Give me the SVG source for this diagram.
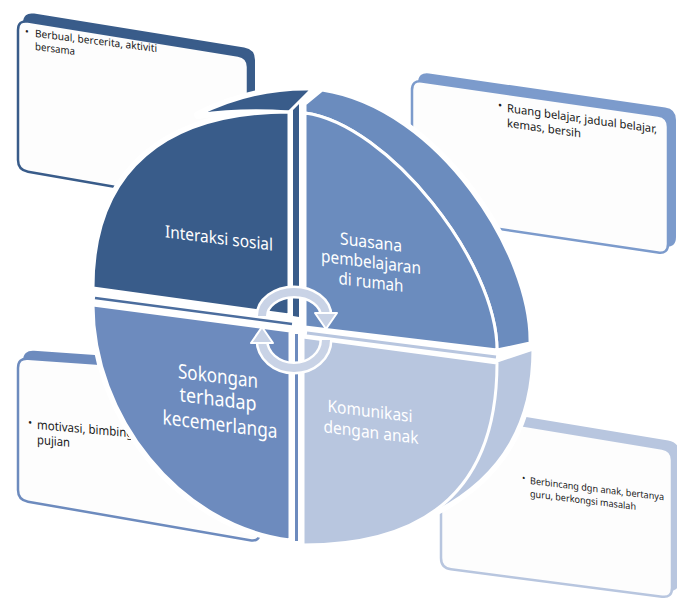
<svg xmlns="http://www.w3.org/2000/svg" xmlns:xlink="http://www.w3.org/1999/xlink" width="677" height="599" viewBox="0 0 677 599">
<style>
.card{fill:#FDFDFD;stroke-width:2.5}
.ctext{font-family:"Noto Sans","Open Sans",sans-serif;fill:#1a1a1a}
.qtext{font-family:"Noto Sans","Open Sans",sans-serif;fill:#FFFFFF;text-anchor:middle}
.face{stroke:#FFFFFF;stroke-width:3;stroke-linejoin:round}
.halo{fill:#FFFFFF;stroke:#FFFFFF;stroke-width:8;stroke-linejoin:round}
</style>
<defs>
<path id="cTL" d="M18,30 Q18,20 28,21.6 L238,55.4 Q248,57 248,67 L248,200 Q248,210 238,208.3 L28,171.7 Q18,170 18,160 Z"/>
<path id="cTR" d="M412,90 Q412,80 422,81.4 L658,115.6 Q668,117 668,127 L668,244 Q668,254 658,252.5 L422,217.5 Q412,216 412,206 Z"/>
<path id="cBL" d="M18,368 Q18,358 28,358.7 L250,374.3 Q260,375 260,385 L260,532 Q260,542 250,540.3 L28,501.7 Q18,500 18,490 Z"/>
<path id="cBR" d="M441,422 Q441,412 451,413.6 L662,448.4 Q672,450 672,460 L672,588 Q672,598 662,596.7 L451,569.3 Q441,568 441,558 Z"/>
<path id="qTLf" d="M289,315 L93,288 C93,168 168,112 289,112 Z"/>
<path id="qTLr" d="M198,115 C225,111 260,110 289,112 L312,89 C270,88 230,99 198,115 Z"/>
<path id="qTRf" d="M305,113 C388,124 497,262 497,350 L305,327 Z"/>
<path id="qTRb" d="M305,113 C388,124 497,262 497,350 L530,343 C532,255 440,108 322,90 L305,104 Z"/>
<path id="qBLf" d="M290,331 L93,305 C93,415 178,526 290,540 Z"/>
<path id="qBRf" d="M303,337 L497,363 C497,488 428,545 303,545 Z"/>
<path id="qBRb" d="M497,361 L533,349 C533,420 505,475 437,511 L400,480 Z"/>
</defs>
<rect x="0" y="0" width="677" height="599" fill="#FFFFFF"/>

<g id="card-interaksi">
<use xlink:href="#cTL" transform="translate(6,-7)" fill="#395C8A" stroke="#395C8A" stroke-width="2"/>
<use xlink:href="#cTL" class="card" stroke="#395C8A"/>
<g transform="translate(35,37) skewY(7)">
<text class="ctext" x="-10" y="-1" font-size="10">•</text>
<text class="ctext" x="0" y="0" font-size="10.5" textLength="122" lengthAdjust="spacingAndGlyphs">Berbual, bercerita, aktiviti</text>
<text class="ctext" x="0" y="13" font-size="10.5" textLength="40" lengthAdjust="spacingAndGlyphs">bersama</text>
</g>
</g>

<g id="card-suasana">
<use xlink:href="#cTR" transform="translate(7,-7)" fill="#7C9BCC" stroke="#7C9BCC" stroke-width="2"/>
<use xlink:href="#cTR" class="card" stroke="#7C9BCC"/>
<g transform="translate(507,112) skewY(8)">
<text class="ctext" x="-9" y="-2" font-size="11">•</text>
<text class="ctext" x="0" y="0" font-size="11.5" textLength="150" lengthAdjust="spacingAndGlyphs">Ruang belajar, jadual belajar,</text>
<text class="ctext" x="0" y="15" font-size="11.5" textLength="74" lengthAdjust="spacingAndGlyphs">kemas, bersih</text>
</g>
</g>

<g id="card-sokongan">
<use xlink:href="#cBL" transform="translate(6,-7)" fill="#6D8BBE" stroke="#6D8BBE" stroke-width="2"/>
<use xlink:href="#cBL" class="card" stroke="#6D8BBE"/>
<g transform="translate(37,429) skewY(5)">
<text class="ctext" x="-9" y="-2" font-size="11">•</text>
<text class="ctext" x="0" y="0" font-size="12.5" textLength="113" lengthAdjust="spacingAndGlyphs">motivasi, bimbingan,</text>
<text class="ctext" x="0" y="15" font-size="12.5" textLength="33" lengthAdjust="spacingAndGlyphs">pujian</text>
</g>
</g>

<g id="card-komunikasi">
<use xlink:href="#cBR" transform="translate(6,-7)" fill="#B8C6DF" stroke="#B8C6DF" stroke-width="2"/>
<use xlink:href="#cBR" class="card" stroke="#B8C6DF"/>
<g transform="translate(530,484) skewY(7)">
<text class="ctext" x="-8" y="-2" font-size="9">•</text>
<text class="ctext" x="0" y="0" font-size="9.6" textLength="134" lengthAdjust="spacingAndGlyphs">Berbincang dgn anak, bertanya</text>
<text class="ctext" x="0" y="13" font-size="9.6" textLength="106" lengthAdjust="spacingAndGlyphs">guru, berkongsi masalah</text>
</g>
</g>

<g id="halo">
<use xlink:href="#qTLf" class="halo"/>
<use xlink:href="#qTLr" class="halo"/>
<use xlink:href="#qTRb" class="halo"/>
<use xlink:href="#qBLf" class="halo"/>
<use xlink:href="#qBRf" class="halo"/>
<use xlink:href="#qBRb" class="halo"/>
</g>

<g id="node-sokongan">
<line x1="296.5" y1="334" x2="296.5" y2="541" stroke="#6D8BBE" stroke-width="3"/>
<use xlink:href="#qBLf" class="face" fill="#6D8BBE"/>
<g transform="translate(218,406) skewY(7)">
<text class="qtext" x="0" y="-23" font-size="20" textLength="80" lengthAdjust="spacingAndGlyphs">Sokongan</text>
<text class="qtext" x="0" y="0" font-size="20" textLength="77" lengthAdjust="spacingAndGlyphs">terhadap</text>
<text class="qtext" x="2" y="25" font-size="20" textLength="115" lengthAdjust="spacingAndGlyphs">kecemerlanga</text>
</g>
</g>

<g id="node-komunikasi">
<use xlink:href="#qBRb" class="face" fill="#B8C6DF"/>
<line x1="307" y1="333" x2="496" y2="357" stroke="#B8C6DF" stroke-width="3"/>
<use xlink:href="#qBRf" class="face" fill="#B8C6DF"/>
<g transform="translate(370,427) skewY(7)">
<text class="qtext" x="0" y="-10" font-size="17" textLength="85" lengthAdjust="spacingAndGlyphs">Komunikasi</text>
<text class="qtext" x="1" y="11" font-size="17" textLength="95" lengthAdjust="spacingAndGlyphs">dengan anak</text>
</g>
</g>

<g id="node-interaksi">
<line x1="95" y1="298" x2="292" y2="324" stroke="#4B6D9E" stroke-width="2.5"/>
<path d="M293,108 L299,103 L299,317 L293,316 Z" fill="#395C8A"/>
<use xlink:href="#qTLr" class="face" fill="#395C8A"/>
<use xlink:href="#qTLf" class="face" fill="#395C8A"/>
<g transform="translate(219,244) skewY(7)">
<text class="qtext" x="0" y="0" font-size="17" textLength="108" lengthAdjust="spacingAndGlyphs">Interaksi sosial</text>
</g>
</g>

<g id="node-suasana">
<use xlink:href="#qTRb" class="face" fill="#6B8CBE"/>
<use xlink:href="#qTRf" class="face" fill="#6B8CBE"/>
<g transform="translate(371,268) skewY(7)">
<text class="qtext" x="0" y="-20" font-size="17" textLength="62" lengthAdjust="spacingAndGlyphs">Suasana</text>
<text class="qtext" x="0" y="0" font-size="17" textLength="100" lengthAdjust="spacingAndGlyphs">pembelajaran</text>
<text class="qtext" x="0" y="20" font-size="17" textLength="65" lengthAdjust="spacingAndGlyphs">di rumah</text>
</g>
</g>

<g id="connectors">
<path d="M262,316 A32,24 0 0 1 326,316" fill="none" stroke="#FFFFFF" stroke-width="13"/>
<path d="M326,340 A32,28 0 0 1 262,340" fill="none" stroke="#FFFFFF" stroke-width="13"/>
<path d="M262,316 A32,24 0 0 1 326,316" fill="none" stroke="#C9D3E6" stroke-width="8"/>
<path d="M326,340 A32,28 0 0 1 262,340" fill="none" stroke="#C9D3E6" stroke-width="8"/>
<polygon points="315,313 337,313 326,329" fill="#C9D3E6" stroke="#FFFFFF" stroke-width="2" stroke-linejoin="round"/>
<polygon points="251,343 273,343 262,327" fill="#C9D3E6" stroke="#FFFFFF" stroke-width="2" stroke-linejoin="round"/>
</g>
</svg>
